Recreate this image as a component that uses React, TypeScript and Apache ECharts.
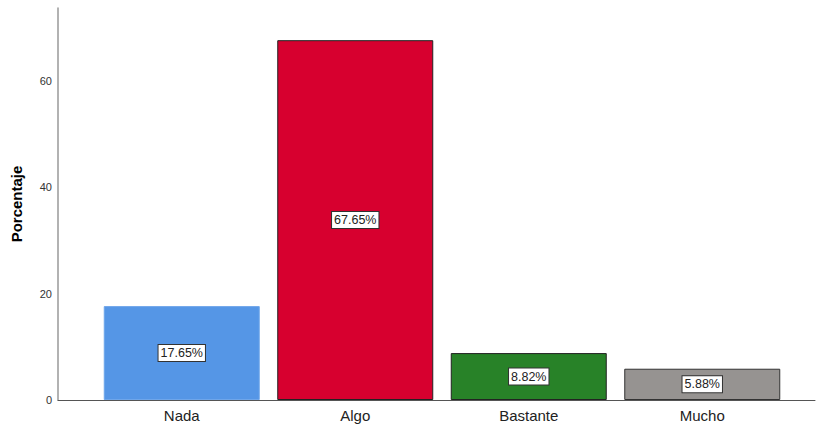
import React, { useEffect, useRef } from "react";
import * as echarts from "echarts";

const categories = ["Nada", "Algo", "Bastante", "Mucho"];
const values = [17.65, 67.65, 8.82, 5.88];
const colors = ["#5596E6", "#D7002F", "#288228", "#969391"];
const borders = ["#6FA6EA", "#222222", "#222222", "#333333"];
const yTicks = [0, 20, 40, 60];
const yMax = 73.7;

export default function App() {
  const ref = useRef<HTMLDivElement>(null);
  useEffect(() => {
    if (!ref.current) return;
    const chart = echarts.init(ref.current, undefined, { renderer: "svg" });
    const font = "'Liberation Sans', Arial, sans-serif";
    chart.setOption({
      animation: false,
      backgroundColor: "#ffffff",
      grid: [
        { left: 58, right: 2, top: 8, bottom: 25 },
        { left: 95, right: 28, top: 8, bottom: 25 },
      ],
      xAxis: [
        {
          type: "value",
          gridIndex: 0,
          min: 0,
          max: 1,
          axisLine: { show: true, lineStyle: { color: "#555555", width: 1 } },
          axisTick: { show: false },
          axisLabel: { show: false },
          splitLine: { show: false },
        },
        {
          type: "category",
          gridIndex: 1,
          data: categories,
          axisLine: { show: false },
          axisTick: { show: false },
          axisLabel: { color: "#222222", fontSize: 15, fontFamily: font, margin: 8 },
        },
      ],
      yAxis: [
        {
          type: "value",
          gridIndex: 0,
          min: 0,
          max: yMax,
          interval: 20,
          name: "Porcentaje",
          nameLocation: "middle",
          nameGap: 34,
          nameTextStyle: { fontSize: 15, fontWeight: "bold", color: "#000000", fontFamily: font },
          axisLine: { show: true, lineStyle: { color: "#999999", width: 1.5 } },
          axisTick: { show: false },
          splitLine: { show: false },
          axisLabel: {
            color: "#333333",
            fontSize: 11,
            fontFamily: font,
            margin: 6,
            showMaxLabel: false,
            formatter: (v: number) => (yTicks.includes(v) ? String(v) : ""),
          },
        },
        {
          type: "value",
          gridIndex: 1,
          min: 0,
          max: yMax,
          show: false,
          splitLine: { show: false },
        },
      ],
      series: [
        {
          type: "bar",
          xAxisIndex: 1,
          yAxisIndex: 1,
          barWidth: 156,
          data: values.map((v, i) => ({
            value: v,
            itemStyle: { color: colors[i], borderColor: borders[i], borderWidth: 1 },
          })),
          label: {
            show: true,
            position: "inside",
            formatter: (p: any) => p.value.toFixed(2) + "%",
            color: "#222222",
            fontSize: 12.5,
            fontFamily: font,
            backgroundColor: "#ffffff",
            borderColor: "#333333",
            borderWidth: 1,
            padding: [2, 2, 1, 2],
          },
        },
      ],
    });
    return () => chart.dispose();
  }, []);
  return (
    <div
      ref={ref}
      style={{ position: "fixed", left: 0, top: 0, width: 817, height: 425 }}
    />
  );
}
